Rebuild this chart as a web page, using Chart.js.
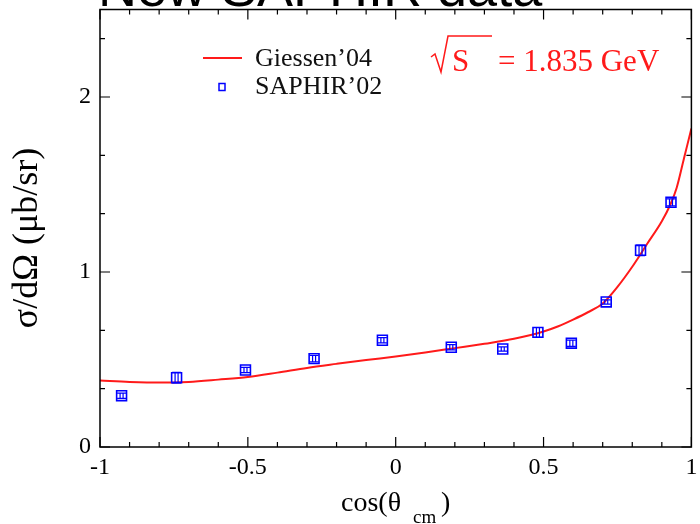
<!DOCTYPE html>
<html>
<head>
<meta charset="utf-8">
<script src="https://cdn.jsdelivr.net/npm/chart.js@4"></script>
<style>
  html, body { margin: 0; padding: 0; background: #fff; }
  canvas { display: block; }
</style>
</head>
<body>
<canvas id="c" width="700" height="524"></canvas>
<script>
// Giessen'04 model curve, read at fixed cos(theta) steps
const curveCos = [-1, -0.9, -0.8, -0.7, -0.6, -0.5, -0.4, -0.3, -0.2, -0.1, 0, 0.1, 0.2, 0.3, 0.4, 0.5, 0.55, 0.6, 0.65, 0.7, 0.75, 0.8, 0.85, 0.9, 0.93, 0.95, 0.975, 1];
const curveXs  = [0.38, 0.372, 0.368, 0.372, 0.385, 0.40, 0.425, 0.452, 0.475, 0.497, 0.517, 0.54, 0.565, 0.59, 0.618, 0.66, 0.69, 0.728, 0.77, 0.82, 0.915, 1.03, 1.16, 1.29, 1.39, 1.48, 1.65, 1.82];

// SAPHIR'02 points with their errors
const saphirCos = [-0.927, -0.741, -0.508, -0.276, -0.045, 0.188, 0.362, 0.481, 0.594, 0.712, 0.828, 0.931];
const saphirXs  = [0.293, 0.396, 0.44, 0.505, 0.61, 0.57, 0.56, 0.655, 0.593, 0.829, 1.124, 1.398];
const saphirErr = [0.015, 0.03, 0.015, 0.018, 0.015, 0.015, 0.012, 0.028, 0.018, 0.012, 0.03, 0.02];

const xTicks = [-1, -0.5, 0, 0.5, 1];
const yTicks = [0, 1, 2];

const RED = '#ff1a1a', BLUE = '#0000ff';
const SERIF = '"Liberation Serif","DejaVu Serif",serif';

// frame with inward ticks on all four sides, plus the tick labels
const frame = { id: 'frame', afterDatasetsDraw(chart) {
  const { ctx, chartArea: a, scales: { x, y } } = chart;
  ctx.save();
  ctx.strokeStyle = '#000';
  ctx.lineWidth = 1.5;
  ctx.strokeRect(a.left, a.top, a.right - a.left, a.bottom - a.top);
  ctx.lineWidth = 1.2;
  ctx.beginPath();
  for (let i = 0; i <= 20; i++) {
    const px = x.getPixelForValue(-1 + i * 0.1);
    const len = i % 5 === 0 ? 10 : 5;
    ctx.moveTo(px, a.bottom); ctx.lineTo(px, a.bottom - len);
    ctx.moveTo(px, a.top);    ctx.lineTo(px, a.top + len);
  }
  for (let i = 0; i <= 7; i++) {
    const py = y.getPixelForValue(i / 3);
    const len = i % 3 === 0 ? 10 : 5;
    ctx.moveTo(a.left, py);  ctx.lineTo(a.left + len, py);
    ctx.moveTo(a.right, py); ctx.lineTo(a.right - len, py);
  }
  ctx.stroke();

  ctx.fillStyle = '#000';
  ctx.font = '24px ' + SERIF;
  ctx.textAlign = 'center'; ctx.textBaseline = 'middle';
  xTicks.forEach(v => ctx.fillText(String(v), x.getPixelForValue(v), a.bottom + 21));
  ctx.textAlign = 'right';
  yTicks.forEach(v => ctx.fillText(String(v), a.left - 9, y.getPixelForValue(v)));
  ctx.restore();
}};

// error bars on the SAPHIR points
const errBars = { id: 'errBars', afterDatasetsDraw(chart) {
  const { ctx, scales: { x, y } } = chart;
  ctx.save();
  ctx.strokeStyle = BLUE;
  ctx.lineWidth = 1.2;
  saphirCos.forEach((c, i) => {
    const px = x.getPixelForValue(c);
    const lo = y.getPixelForValue(saphirXs[i] - saphirErr[i]);
    const hi = y.getPixelForValue(saphirXs[i] + saphirErr[i]);
    ctx.beginPath();
    ctx.moveTo(px - 1.5, lo); ctx.lineTo(px - 1.5, hi);
    ctx.moveTo(px + 1.5, lo); ctx.lineTo(px + 1.5, hi);
    ctx.moveTo(px - 4.5, lo); ctx.lineTo(px + 4.5, lo);
    ctx.moveTo(px - 4.5, hi); ctx.lineTo(px + 4.5, hi);
    ctx.stroke();
  });
  ctx.restore();
}};

// title, axis titles, legend and energy label
const texts = { id: 'texts', afterDraw(chart) {
  const { ctx } = chart;
  ctx.save();
  ctx.fillStyle = '#000';
  ctx.font = '54px "Liberation Sans",Arial,sans-serif';
  ctx.textAlign = 'left'; ctx.textBaseline = 'alphabetic';
  ctx.fillText('New SAPHIR data', 98, 6);

  // y title
  ctx.save();
  ctx.translate(28, 238);
  ctx.rotate(-Math.PI / 2);
  ctx.font = '36px ' + SERIF;
  ctx.textAlign = 'center'; ctx.textBaseline = 'middle';
  ctx.fillText('σ/dΩ (μb/sr)', 0, 0);
  ctx.restore();

  // x title with subscript
  ctx.textAlign = 'left'; ctx.textBaseline = 'middle';
  ctx.font = '28px ' + SERIF;
  ctx.fillText('cos(θ', 341, 504);
  ctx.font = '19px ' + SERIF;
  ctx.fillText('cm', 413, 518);
  ctx.font = '28px ' + SERIF;
  ctx.fillText(')', 441, 504);

  // legend
  ctx.strokeStyle = RED; ctx.lineWidth = 2;
  ctx.beginPath(); ctx.moveTo(203, 58); ctx.lineTo(242, 58); ctx.stroke();
  ctx.strokeStyle = BLUE; ctx.lineWidth = 1.5;
  ctx.strokeRect(219, 83.5, 6, 7);
  ctx.fillStyle = '#111';
  ctx.font = '26px ' + SERIF;
  ctx.fillText('Giessen’04', 255, 59);
  ctx.fillText('SAPHIR’02', 255, 87);

  // sqrt(s) label: radical drawn as a stroke running into the overline
  ctx.strokeStyle = RED; ctx.lineWidth = 1.5;
  ctx.lineJoin = 'miter';
  ctx.beginPath();
  ctx.moveTo(431, 57); ctx.lineTo(435, 54);
  ctx.lineTo(441, 72); ctx.lineTo(448, 36); ctx.lineTo(492, 36);
  ctx.stroke();
  ctx.fillStyle = RED;
  ctx.font = '31px ' + SERIF;
  ctx.fillText('S', 452, 63);
  ctx.fillText('= 1.835 GeV', 498, 63);
  ctx.restore();
}};

new Chart(document.getElementById('c'), {
  data: {
    datasets: [{
      type: 'scatter',
      label: 'SAPHIR’02',
      data: saphirCos.map((c, i) => ({ x: c, y: saphirXs[i] })),
      pointStyle: 'rect',
      pointRadius: 7,
      pointHoverRadius: 7,
      borderWidth: 1.6,
      borderColor: BLUE,
      backgroundColor: 'rgba(0,0,0,0)',
    }, {
      type: 'line',
      label: 'Giessen’04',
      data: curveCos.map((c, i) => ({ x: c, y: curveXs[i] })),
      borderColor: RED,
      borderWidth: 2,
      pointRadius: 0,
      cubicInterpolationMode: 'monotone',
      fill: false,
    }]
  },
  options: {
    responsive: false,
    animation: false,
    devicePixelRatio: 1,
    layout: { padding: { top: 9.5, right: 8, left: 0, bottom: 0 } },
    plugins: { legend: { display: false }, tooltip: { enabled: false } },
    scales: {
      x: {
        type: 'linear', min: -1, max: 1,
        grid: { display: false, drawTicks: false },
        border: { display: false },
        ticks: { display: false },
        afterFit: s => { s.height = 77; },
      },
      y: {
        type: 'linear', min: 0, max: 2.5,
        grid: { display: false, drawTicks: false },
        border: { display: false },
        ticks: { display: false },
        afterFit: s => { s.width = 100; },
      }
    }
  },
  plugins: [frame, errBars, texts]
});
</script>
</body>
</html>
